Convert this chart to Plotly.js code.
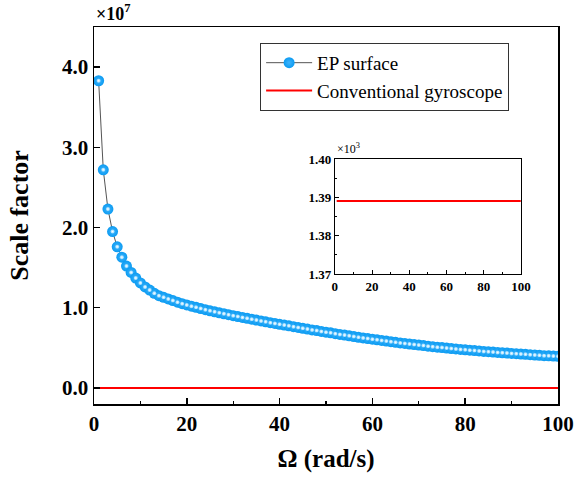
<!DOCTYPE html>
<html>
<head>
<meta charset="utf-8">
<script src="https://cdn.plot.ly/plotly-3.0.1.min.js"></script>
<style>html,body{margin:0;padding:0;background:#fff;}#chart{width:577px;height:481px;}</style>
</head>
<body>
<div id="chart"></div>
<script>
// Angular rate Ω (rad/s)
const omega = [];
for (let i = 1; i <= 100; i++) omega.push(i);

// EP surface scale factor, in units of 1e7
const epScaleE7 = [
  3.83, 2.72, 2.23, 1.95, 1.76, 1.63, 1.52, 1.44, 1.37, 1.31,
  1.26, 1.22, 1.18, 1.15, 1.13, 1.11, 1.09, 1.07, 1.05, 1.035,
  1.02, 1.005, 0.99, 0.976, 0.962, 0.949, 0.937, 0.925, 0.913, 0.901,
  0.89, 0.879, 0.868, 0.857, 0.846, 0.835, 0.825, 0.814, 0.804, 0.794,
  0.784, 0.774, 0.764, 0.754, 0.744, 0.734, 0.724, 0.715, 0.705, 0.696,
  0.687, 0.677, 0.668, 0.659, 0.65, 0.641, 0.632, 0.624, 0.616, 0.608,
  0.6, 0.592, 0.584, 0.577, 0.569, 0.562, 0.555, 0.548, 0.541, 0.534,
  0.528, 0.521, 0.515, 0.509, 0.503, 0.497, 0.492, 0.486, 0.481, 0.476,
  0.471, 0.466, 0.461, 0.456, 0.452, 0.447, 0.443, 0.439, 0.435, 0.431,
  0.427, 0.423, 0.419, 0.415, 0.411, 0.407, 0.403, 0.4, 0.397, 0.394
];

// Conventional gyroscope scale factor (constant), in units of 1e3
const convScaleE3 = omega.map(() => 1.389);
// Same series in units of 1e7 for the main axes
const convScaleE7 = convScaleE3.map(v => v * 1e3 / 1e7);

const mainTicks = [0, 1, 2, 3, 4];
const mainTickText = ['0.0', '1.0', '2.0', '3.0', '4.0'];
const xTicks = [0, 20, 40, 60, 80, 100];
const insetYTicks = [1.37, 1.38, 1.39, 1.40];

const serif = 'Liberation Serif, Times New Roman, serif';
const blue = '#0b9bf2';

const traces = [
  {
    x: omega, y: epScaleE7, name: 'EP surface', type: 'scatter', mode: 'lines+markers',
    line: {color: '#555555', width: 1},
    marker: {size: 11, color: blue, line: {width: 0},
             gradient: {type: 'radial', color: '#3fb4fb'}},
    xaxis: 'x', yaxis: 'y'
  },
  {
    x: omega, y: epScaleE7, type: 'scatter', mode: 'markers', showlegend: false,
    hoverinfo: 'skip',
    marker: {size: 4, color: '#8fd6ff', line: {width: 0},
             gradient: {type: 'radial', color: '#ffffff'}},
    xaxis: 'x', yaxis: 'y'
  },
  {
    x: omega, y: convScaleE7, name: 'Conventional gyroscope', type: 'scatter', mode: 'lines',
    line: {color: '#ff0000', width: 2},
    xaxis: 'x', yaxis: 'y'
  },
  {
    x: omega, y: convScaleE3, type: 'scatter', mode: 'lines', showlegend: false,
    line: {color: '#ff0000', width: 2},
    xaxis: 'x2', yaxis: 'y2'
  }
];

const axisCommon = {
  showgrid: false, zeroline: false, showline: true, linecolor: '#000', linewidth: 1.5,
  mirror: true, ticks: 'inside', tickcolor: '#000', tickwidth: 1.5
};

const layout = {
  width: 577, height: 481,
  margin: {l: 94, r: 19, t: 27, b: 77},
  paper_bgcolor: '#fff', plot_bgcolor: '#fff',
  showlegend: true,
  font: {family: serif, color: '#000'},
  xaxis: Object.assign({}, axisCommon, {
    domain: [0, 1], range: [0, 100], tickvals: xTicks, ticklen: 6,
    minor: {dtick: 10, tick0: 0, ticks: 'inside', ticklen: 3, tickcolor: '#000', tickwidth: 1.2},
    tickfont: {family: serif, size: 21, color: '#000', weight: 'bold'},
    title: {text: '<b>Ω (rad/s)</b>', font: {family: serif, size: 25, color: '#000'}, standoff: 15}
  }),
  yaxis: Object.assign({}, axisCommon, {
    domain: [0, 1], range: [-0.2, 4.5], tickvals: mainTicks, ticktext: mainTickText, ticklen: 6,
    tickfont: {family: serif, size: 21, color: '#000', weight: 'bold'},
    title: {text: '<b>Scale factor</b>', font: {family: serif, size: 26, color: '#000'}, standoff: 26}
  }),
  xaxis2: Object.assign({}, axisCommon, {
    anchor: 'y2', domain: [0.519, 0.920], range: [0, 100], tickvals: xTicks, ticklen: 4,
    linewidth: 1, tickwidth: 1,
    minor: {dtick: 10, tick0: 0, ticks: 'inside', ticklen: 2, tickcolor: '#000', tickwidth: 1},
    tickfont: {family: serif, size: 13, color: '#000', weight: 'bold'}
  }),
  yaxis2: Object.assign({}, axisCommon, {
    anchor: 'x2', domain: [0.345, 0.650], range: [1.37, 1.40], tickvals: insetYTicks,
    tickformat: '.2f', ticklen: 4, linewidth: 1, tickwidth: 1,
    minor: {dtick: 0.005, tick0: 1.37, ticks: 'inside', ticklen: 2, tickcolor: '#000', tickwidth: 1},
    tickfont: {family: serif, size: 13, color: '#000', weight: 'bold'}
  }),
  legend: {
    x: 0.358, y: 0.958, xanchor: 'left', yanchor: 'top',
    bgcolor: '#fff', bordercolor: '#333', borderwidth: 1,
    font: {family: serif, size: 19, color: '#000'},
    itemwidth: 46, tracegroupgap: 0
  },
  annotations: [
    {xref: 'paper', yref: 'paper', x: 0, y: 1, xanchor: 'left', yanchor: 'bottom', yshift: 1,
     showarrow: false, text: '<b>×10<sup>7</sup></b>', font: {family: serif, size: 18, color: '#000'}},
    {xref: 'x2 domain', yref: 'y2 domain', x: 0, y: 1, xanchor: 'left', yanchor: 'bottom', yshift: 1,
     showarrow: false, text: '×10<sup>3</sup>', font: {family: serif, size: 12, color: '#000'}}
  ]
};

Plotly.newPlot('chart', traces, layout, {staticPlot: true, displayModeBar: false});
</script>
</body>
</html>
